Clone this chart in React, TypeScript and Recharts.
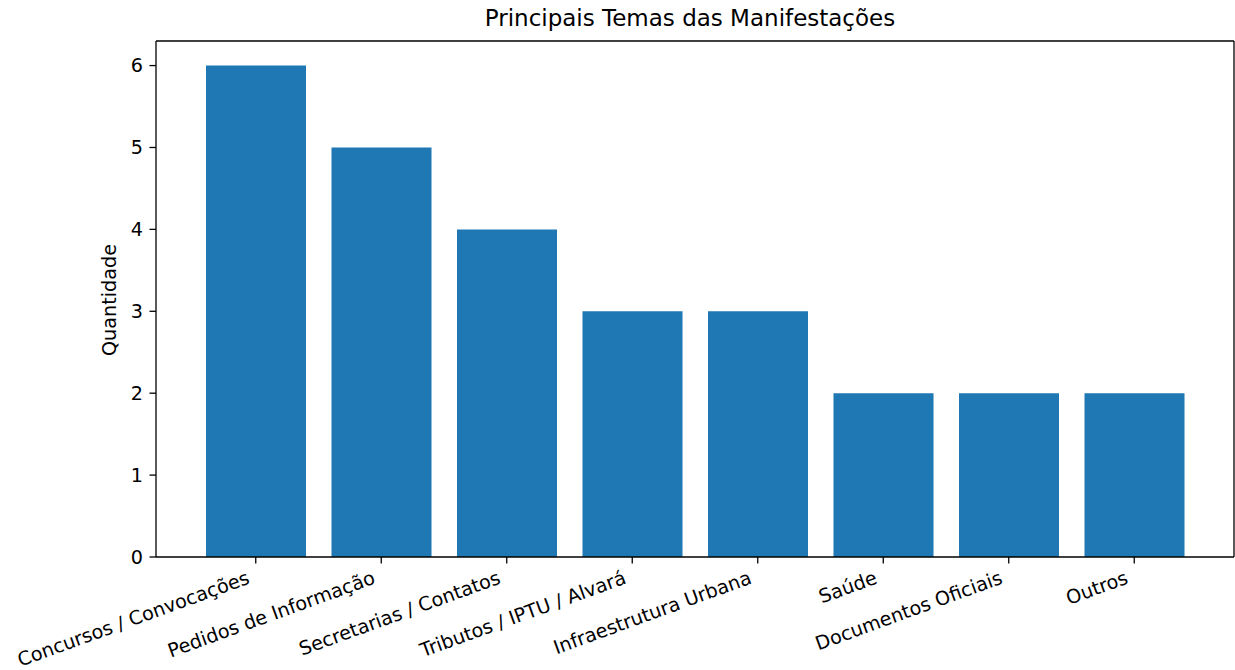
import React from 'react';
import { BarChart, Bar, Line, XAxis, YAxis, Label } from 'recharts';

const categories = [
  'Concursos / Convocações',
  'Pedidos de Informação',
  'Secretarias / Contatos',
  'Tributos / IPTU / Alvará',
  'Infraestrutura Urbana',
  'Saúde',
  'Documentos Oficiais',
  'Outros',
];
const quantities = [6, 5, 4, 3, 3, 2, 2, 2];
const yTicks = [0, 1, 2, 3, 4, 5, 6];
const chartTitle = 'Principais Temas das Manifestações';
const yAxisTitle = 'Quantidade';

const data = categories.map((c, i) => ({ tema: c, quantidade: quantities[i] }));

const FONT = '"DejaVu Sans", sans-serif';
const TICK_FS = 19.2;

const XTick = (props: any) => {
  const { x, y, payload } = props;
  return (
    <g transform={`translate(${x - 5},${y + 19.5})`}>
      <text
        transform="rotate(-20)"
        textAnchor="end"
        fontFamily={FONT}
        fontSize={TICK_FS}
        fill="#000"
      >
        {payload.value}
      </text>
    </g>
  );
};

const YTick = (props: any) => {
  const { x, y, payload } = props;
  return (
    <text
      x={x}
      y={y}
      dy="0.36em"
      textAnchor="end"
      fontFamily={FONT}
      fontSize={TICK_FS}
      fill="#000"
    >
      {payload.value}
    </text>
  );
};

export default function App() {
  return (
    <div style={{ position: 'absolute', left: 0, top: 0, background: '#fff' }}>
      <div
        style={{
          position: 'absolute',
          left: 0,
          top: 3,
          width: 1380,
          textAlign: 'center',
          fontFamily: FONT,
          fontSize: 23,
          lineHeight: '30px',
          color: '#000',
          whiteSpace: 'nowrap',
        }}
      >
        {chartTitle}
      </div>
      <BarChart
        width={1235}
        height={670}
        data={data}
        margin={{ top: 40, right: 0, bottom: 0, left: 0 }}
      >
        <XAxis
          dataKey="tema"
          height={113}
          interval={0}
          padding={{ left: 37, right: 37 }}
          tickSize={6.5}
          tickMargin={0}
          tick={<XTick />}
          axisLine={{ stroke: '#000', strokeWidth: 1.3 }}
          tickLine={{ stroke: '#000', strokeWidth: 1.3 }}
        />
        <XAxis
          xAxisId="top"
          dataKey="tema"
          orientation="top"
          height={1}
          padding={{ left: 37, right: 37 }}
          tick={false}
          tickLine={false}
          axisLine={{ stroke: '#000', strokeWidth: 1.3 }}
        />
        <YAxis
          width={156}
          domain={[0, 6.3]}
          ticks={yTicks}
          allowDataOverflow
          tickSize={6.5}
          tickMargin={6.5}
          tick={<YTick />}
          axisLine={{ stroke: '#000', strokeWidth: 1.3 }}
          tickLine={{ stroke: '#000', strokeWidth: 1.3 }}
        >
          <Label
            content={() => (
              <text
                x={116}
                y={300}
                transform="rotate(-90 116 300)"
                textAnchor="middle"
                fontFamily={FONT}
                fontSize={TICK_FS}
                fill="#000"
              >
                {yAxisTitle}
              </text>
            )}
          />
        </YAxis>
        <YAxis
          yAxisId="right"
          orientation="right"
          width={1}
          domain={[0, 6.3]}
          allowDataOverflow
          tick={false}
          tickLine={false}
          axisLine={{ stroke: '#000', strokeWidth: 1.3 }}
        />
        <Bar
          dataKey="quantidade"
          fill="#1f77b4"
          barSize={100}
          isAnimationActive={false}
        />
        <Line
          xAxisId="top"
          yAxisId="right"
          dataKey="quantidade"
          stroke="none"
          dot={false}
          activeDot={false}
          legendType="none"
          isAnimationActive={false}
        />
      </BarChart>
    </div>
  );
}
